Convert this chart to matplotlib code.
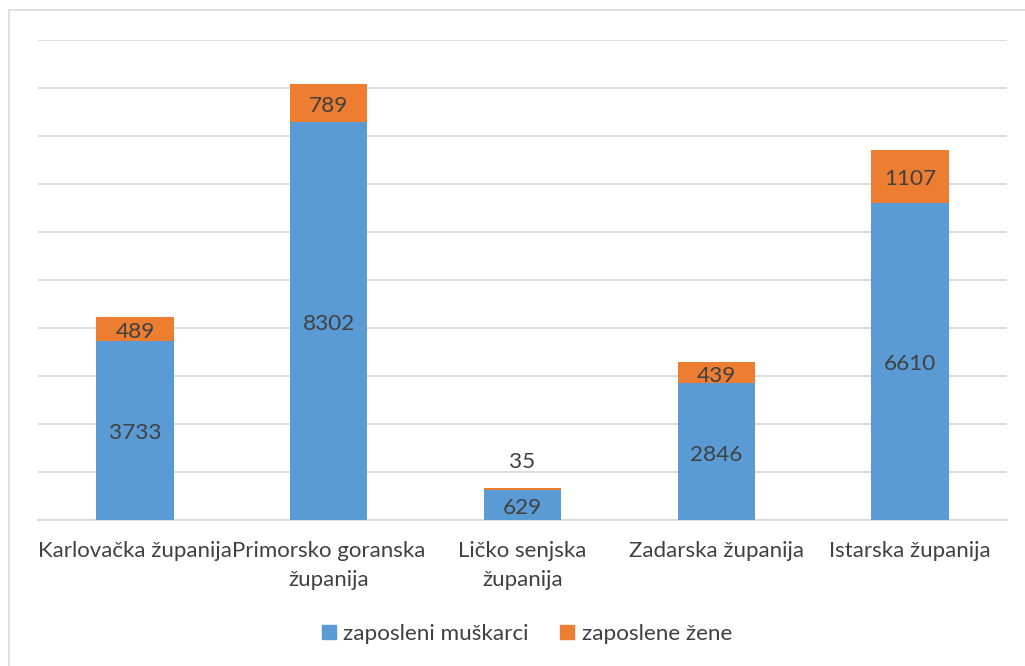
import matplotlib
matplotlib.use("Agg")
import matplotlib.pyplot as plt
from matplotlib.patches import Rectangle
import numpy as np

categories = ["Karlovačka županija", "Primorsko goranska\nžupanija", "Ličko senjska\nžupanija",
              "Zadarska županija", "Istarska županija"]
men = [3733, 8302, 629, 2846, 6610]
women = [489, 789, 35, 439, 1107]
series_names = ["zaposleni muškarci", "zaposlene žene"]

BLUE = "#5B9BD5"
ORANGE = "#ED7D31"
GRID = "#D9D9D9"
TEXT = "#404040"
FONT = "Lato"

plt.rcParams['font.family'] = [FONT, 'DejaVu Sans']

W, H = 1025, 666
fig = plt.figure(figsize=(W / 100, H / 100), dpi=100)
fig.patch.set_facecolor("white")

# outer chart border (extends beyond the image to right/bottom)
fig.patches.append(Rectangle((8.5 / W, -0.1), 1.2, 1 - 10.5 / H + 0.1, transform=fig.transFigure,
                             fill=False, edgecolor=GRID, linewidth=1.2))

left, right, top, bottom = 38, 1007, 40, 520
ax = fig.add_axes([left / W, 1 - bottom / H, (right - left) / W, (bottom - top) / H])

x = np.arange(len(categories))
bw = 0.40
b1 = ax.bar(x, men, bw, color=BLUE, label=series_names[0], zorder=3)
b2 = ax.bar(x, women, bw, bottom=men, color=ORANGE, label=series_names[1], zorder=3)

ax.set_xlim(-0.5, len(categories) - 0.5)
ax.set_ylim(0, 10000)
ax.set_yticks(np.arange(0, 10001, 1000))
ax.yaxis.grid(True, color=GRID, linewidth=1.3, zorder=0)
ax.set_axisbelow(True)
ax.tick_params(axis='y', length=0, labelleft=False)
for s in ["top", "right", "left"]:
    ax.spines[s].set_visible(False)
ax.spines["bottom"].set_color(GRID)
ax.spines["bottom"].set_linewidth(1.3)

ax.set_xticks(x)
ax.set_xticklabels(categories, fontsize=16, color=TEXT, linespacing=1.55)
ax.tick_params(axis='x', length=0, pad=15)

fs = 16.2
dy = -2.2  # small downward nudge in points
for i in range(len(categories)):
    ax.annotate(str(men[i]), (x[i], men[i] / 2), xytext=(0, dy), textcoords="offset points",
                ha="center", va="center", fontsize=fs, color=TEXT, zorder=4)
    if women[i] >= 200:
        ax.annotate(str(women[i]), (x[i], men[i] + women[i] / 2), xytext=(0, dy),
                    textcoords="offset points", ha="center", va="center",
                    fontsize=fs, color=TEXT, zorder=4)
    else:
        ax.annotate(str(women[i]), (x[i], men[i] + women[i]), xytext=(0, 19),
                    textcoords="offset points", ha="center", va="center", fontsize=fs, color=TEXT)

handles = [Rectangle((0, 0), 1, 1, color=BLUE), Rectangle((0, 0), 1, 1, color=ORANGE)]
leg = fig.legend(handles, series_names, loc="center", bbox_to_anchor=(527 / W, 1 - 634 / H),
                 ncol=2, frameon=False, fontsize=16.2, handlelength=0.6, handleheight=0.6,
                 handletextpad=0.35, columnspacing=1.4)
for t in leg.get_texts():
    t.set_color(TEXT)

fig.savefig("out.png", dpi=100)
